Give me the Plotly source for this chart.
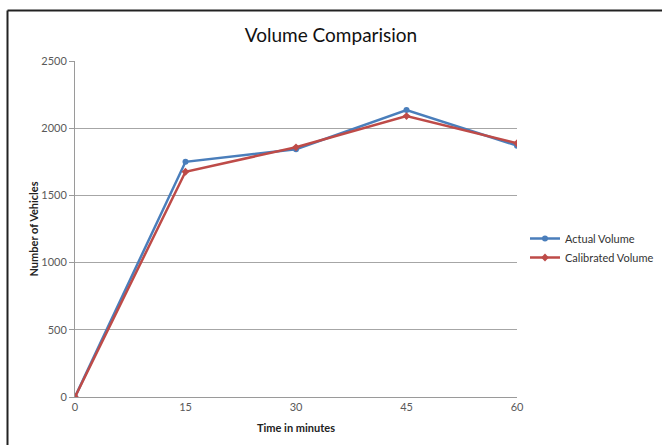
import plotly.graph_objects as go

# Traffic counts over the hour
time_min = [0, 15, 30, 45, 60]
actual_volume = [0, 1750, 1843, 2135, 1870]
calibrated_volume = [0, 1676, 1858, 2090, 1888]
y_ticks = [0, 500, 1000, 1500, 2000, 2500]

W, H = 662, 445
L, R, T, B = 75, 145, 61, 48
pw, ph = W - L - R, H - T - B


def px(x):
    return (x - L) / pw


def py(y):
    return (H - B - y) / ph


font = "Lato, 'Liberation Sans', sans-serif"

fig = go.Figure()
fig.add_trace(go.Scatter(
    x=time_min, y=actual_volume, name="Actual Volume",
    mode="lines+markers",
    line=dict(color="#4a7ebb", width=2.5),
    marker=dict(symbol="circle", size=6, color="#4a7ebb"),
))
fig.add_trace(go.Scatter(
    x=time_min, y=calibrated_volume, name="Calibrated Volume",
    mode="lines+markers",
    line=dict(color="#be4b48", width=2.5),
    marker=dict(symbol="diamond", size=6, color="#be4b48"),
))

# chart frame: top and left edges
frame = dict(type="line", xref="paper", yref="paper",
             line=dict(color="#222222", width=2))
fig.add_shape(**frame, x0=px(7.5), x1=px(662), y0=py(10.5), y1=py(10.5))
fig.add_shape(**frame, x0=px(7.5), x1=px(7.5), y0=py(10.5), y1=py(445))

fig.update_layout(
    width=W, height=H,
    margin=dict(l=L, r=R, t=T, b=B, autoexpand=False),
    paper_bgcolor="white", plot_bgcolor="white",
    font=dict(family=font, color="#595959", size=11),
    title=dict(text="Volume Comparision", x=0.5, xref="container",
               y=1 - 35 / H, yref="container", xanchor="center", yanchor="middle",
               font=dict(family=font, size=19, color="#111111")),
    showlegend=True,
    legend=dict(x=px(525), y=py(224), xanchor="left", yanchor="top",
                font=dict(family=font, size=11, color="#333333"),
                tracegroupgap=4, itemwidth=30, bgcolor="rgba(0,0,0,0)"),
    xaxis=dict(range=[0, 60], tickvals=time_min, showgrid=False,
               showline=True, linecolor="#9a9a9a", linewidth=1,
               zeroline=False, ticks="", ticklen=0,
               title=dict(text="<b>Time in minutes</b>", standoff=12,
                          font=dict(family=font, size=11, color="#222222"))),
    yaxis=dict(range=[0, 2500], tickvals=y_ticks, showgrid=True,
               gridcolor="#a6a6a6", gridwidth=1,
               showline=True, linecolor="#9a9a9a", linewidth=1,
               zeroline=False, ticks="outside", ticklen=5, tickcolor="#9a9a9a",
               title=dict(text="<b>Number of Vehicles</b>", standoff=0,
                          font=dict(family=font, size=11, color="#222222"))),
)

fig.write_html("out.html")
